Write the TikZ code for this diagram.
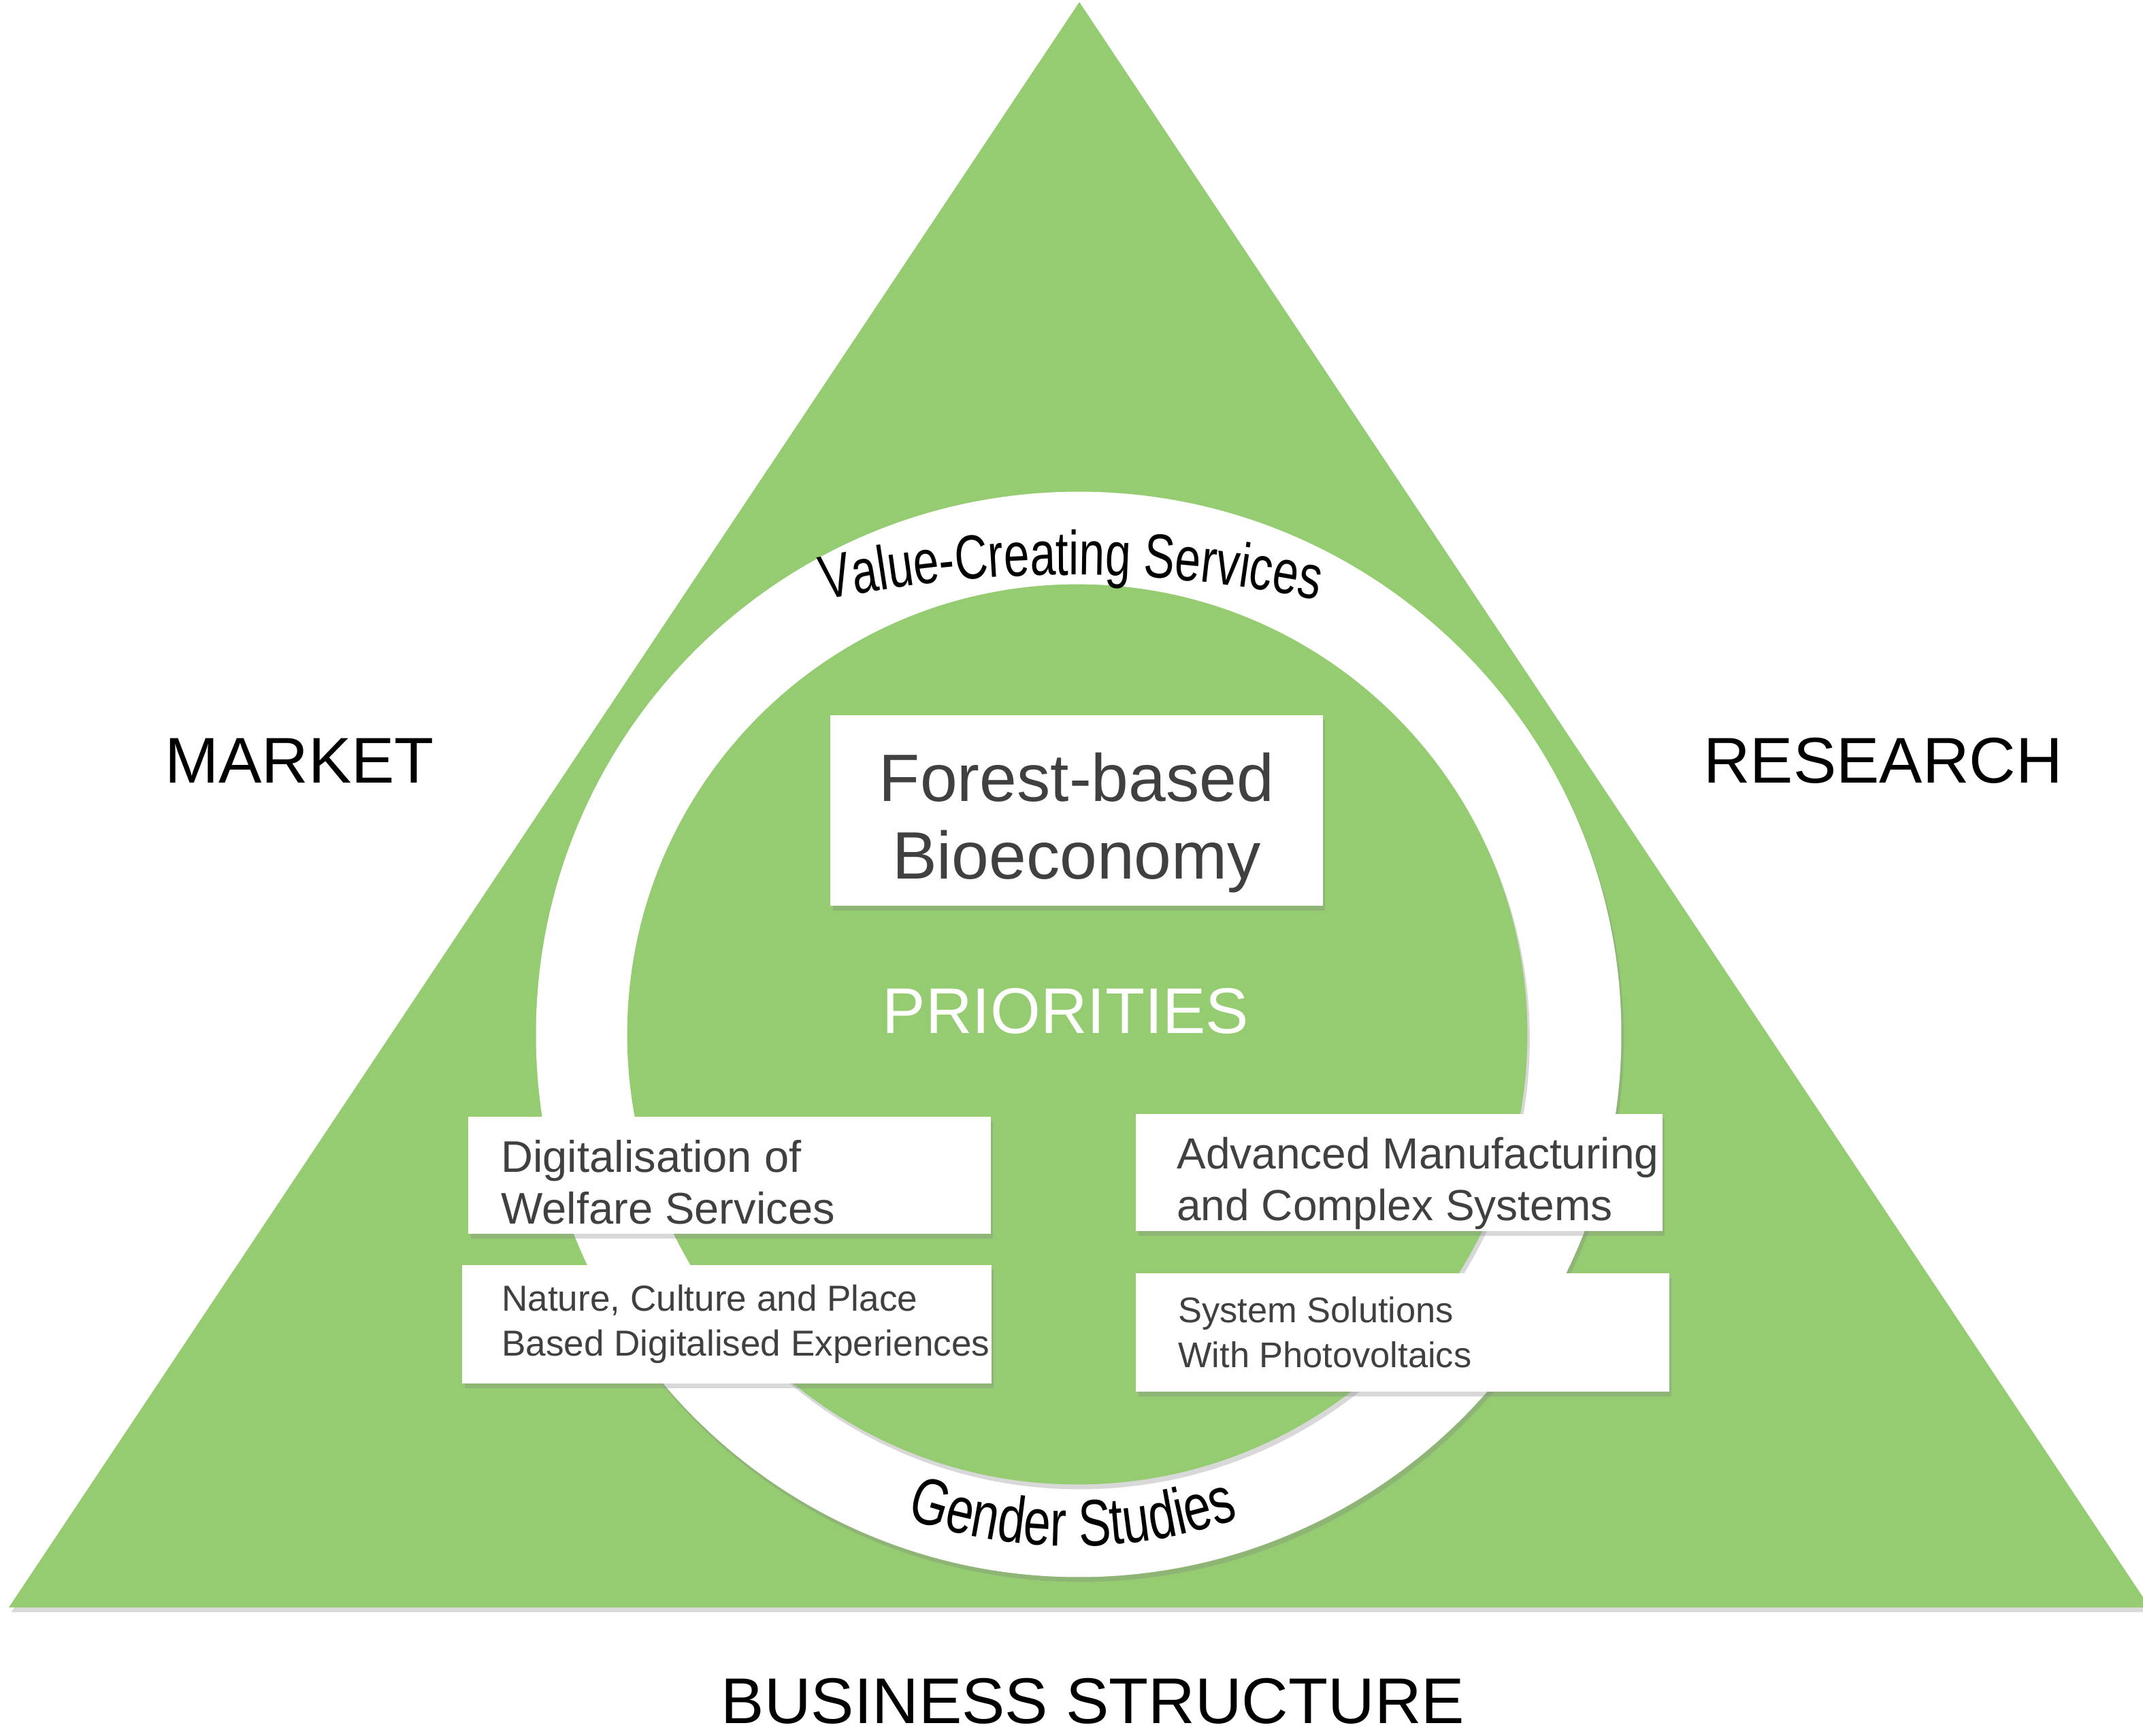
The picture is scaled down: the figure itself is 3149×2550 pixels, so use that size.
\documentclass[tikz,border=0pt]{standalone}
\usepackage{fontspec}
\setmainfont{Liberation Sans}
\newfontfamily\arcfont[FakeStretch=0.74]{Liberation Sans}
\usepackage{tikz}
\usetikzlibrary{positioning, calc, shadows, decorations.text}
\definecolor{leaf}{RGB}{149,204,113}
\definecolor{ink}{RGB}{64,64,64}
\tikzset{
    soft/.style={drop shadow={shadow xshift=1pt, shadow yshift=-2pt, opacity=0.3}},
    card/.style={fill=white, inner sep=0pt, soft},
    cardtext/.style={inner sep=0pt, align=left, text=ink},
    corner/.style={font=\fontsize{27}{32}\selectfont},
    arctext/.style={decorate, decoration={text along path, text align=center}},
}

\begin{document}
\begin{tikzpicture}[x=0.01cm, y=0.01cm]
    \useasboundingbox (0,0) rectangle (3149,2550);
    \fill[leaf, soft] (1586,2547) -- (13,188) -- (3159,188) -- cycle;

    \node[circle, fill=white, inner sep=0pt, minimum size=15.94cm, soft] (ring) at (1585,1030) {};
    \node[circle, fill=leaf, inner sep=0pt, minimum size=13.22cm, soft] (core) at (1583,1030) {};

    \coordinate (vcs) at (1574,-95);
    \coordinate (gs) at (1576,1030);
    \path[arctext, decoration={text={|\arcfont\fontsize{26}{30}\selectfont|Value-Creating Services}}]
        ($(vcs)+(110:1800)$) arc[start angle=110, end angle=70, radius=1800];
    \path[arctext, decoration={text={|\arcfont\fontsize{27.5}{31}\selectfont|Gender Studies}}]
        ($(gs)+(240:752)$) arc[start angle=240, end angle=300, radius=752];

    \node[card, minimum width=7.23cm, minimum height=2.79cm] (forest) at (1582,1359) {};
    \node[align=center, text=ink, font=\fontsize{28}{32.4}\selectfont, inner sep=0pt]
        (foresttxt) at ($(forest)+(0,-18)$) {Forest-based\\Bioeconomy};
    \node[text=white, font=\fontsize{27}{32}\selectfont] (prio) at (1566,1064) {PRIORITIES};

    \node[card, minimum width=7.67cm, minimum height=1.72cm] (digi) at (1072,823) {};
    \node[card, minimum width=7.77cm, minimum height=1.73cm] (nat) at (1068,604) {};
    \node[card, minimum width=7.73cm, minimum height=1.72cm] (adv) at (2056,827) {};
    \node[card, minimum width=7.83cm, minimum height=1.73cm] (sys) at (2061,592) {};

    \node[cardtext, font=\fontsize{18.5}{21.6}\selectfont, right=0.48cm of {$(digi.west)+(0,-10)$}] (digitxt)
        {Digitalisation of\\Welfare Services};
    \node[cardtext, font=\fontsize{15.1}{18.8}\selectfont, right=0.58cm of nat.west] (nattxt)
        {Nature, Culture and Place\\Based Digitalised Experiences};
    \node[cardtext, font=\fontsize{18.2}{21.6}\selectfont, right=0.60cm of {$(adv.west)+(0,-16)$}] (advtxt)
        {Advanced Manufacturing\\and Complex Systems};
    \node[cardtext, font=\fontsize{14.9}{18.8}\selectfont, right=0.62cm of sys.west] (systxt)
        {System Solutions\\With Photovoltaics};

    \node[corner] (market) at (440,1432) {MARKET};
    \node[corner] (research) at (2767,1432) {RESEARCH};
    \node[corner] (business) at (1606,50) {BUSINESS STRUCTURE};
\end{tikzpicture}
\end{document}
